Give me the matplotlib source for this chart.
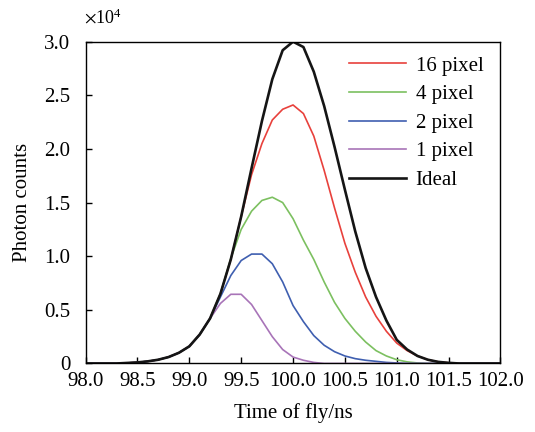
import numpy as np
import matplotlib
matplotlib.use("Agg")
import matplotlib.pyplot as plt

plt.rcParams['font.family'] = ['Liberation Serif', 'DejaVu Serif']
plt.rcParams['mathtext.fontset'] = 'stix'

# time grid (ns), 0.1 ns step
t = np.linspace(98.0, 102.0, 41)

# photon counts in units of 1e4
ideal = [0, 0, 0, 0, 0.005,
         0.01, 0.02, 0.035, 0.06, 0.10, 0.16, 0.27, 0.42, 0.65, 0.97,
         1.37, 1.82, 2.26, 2.65, 2.92, 3.0, 2.95, 2.72, 2.40, 2.02,
         1.62, 1.23, 0.89, 0.62, 0.40, 0.22, 0.13, 0.07, 0.035, 0.015,
         0.006, 0, 0, 0, 0, 0]
pix16 = [0, 0, 0, 0, 0.005,
         0.01, 0.02, 0.035, 0.06, 0.10, 0.16, 0.27, 0.42, 0.65, 0.97,
         1.37, 1.76, 2.05, 2.27, 2.37, 2.41, 2.33, 2.12, 1.80, 1.45,
         1.12, 0.85, 0.62, 0.44, 0.30, 0.19, 0.12, 0.07, 0.035, 0.015,
         0.006, 0, 0, 0, 0, 0]
pix4 = [0, 0, 0, 0, 0.005,
        0.01, 0.02, 0.035, 0.06, 0.10, 0.16, 0.27, 0.42, 0.65, 0.98,
        1.25, 1.42, 1.52, 1.55, 1.50, 1.35, 1.15, 0.97, 0.76, 0.57,
        0.42, 0.30, 0.20, 0.12, 0.07, 0.035, 0.015, 0.005, 0, 0,
        0, 0, 0, 0, 0, 0]
pix2 = [0, 0, 0, 0, 0.005,
        0.01, 0.02, 0.035, 0.06, 0.10, 0.16, 0.27, 0.42, 0.62, 0.82,
        0.96, 1.02, 1.02, 0.93, 0.76, 0.54, 0.39, 0.26, 0.17, 0.11,
        0.07, 0.045, 0.03, 0.02, 0.01, 0.005, 0, 0, 0, 0,
        0, 0, 0, 0, 0, 0]
pix1 = [0, 0, 0, 0, 0.005,
        0.01, 0.02, 0.035, 0.06, 0.10, 0.16, 0.27, 0.42, 0.56, 0.645,
        0.645, 0.55, 0.40, 0.25, 0.13, 0.06, 0.03, 0.01, 0, 0,
        0, 0, 0, 0, 0, 0, 0, 0, 0, 0,
        0, 0, 0, 0, 0, 0]

x_ticks = [98.0, 98.5, 99.0, 99.5, 100.0, 100.5, 101.0, 101.5, 102.0]
y_ticks = [0, 0.5, 1.0, 1.5, 2.0, 2.5, 3.0]
y_labels = ["0", "0.5", "1.0", "1.5", "2.0", "2.5", "3.0"]

fig = plt.figure(figsize=(5.35, 4.32), dpi=100)
ax = fig.add_axes([0.160, 0.1586, 0.7755, 0.7449])

ax.plot(t, pix16, color="#e8413c", lw=1.2, label="16 pixel")
ax.plot(t, pix4, color="#7cc060", lw=1.2, label="4 pixel")
ax.plot(t, pix2, color="#3f5fb0", lw=1.2, label="2 pixel")
ax.plot(t, pix1, color="#a874b8", lw=1.2, label="1 pixel")
ax.plot(t, ideal, color="#151515", lw=1.9, label="Ideal")

ax.set_xlim(98.0, 102.0)
ax.set_ylim(0, 3.0)
ax.set_xticks(x_ticks)
ax.set_xticklabels(["%.1f" % v for v in x_ticks])
ax.set_yticks(y_ticks)
ax.set_yticklabels(y_labels)
ax.tick_params(axis='both', direction='in', length=4, width=1,
               labelsize=15)
ax.tick_params(axis='x', pad=6)
ax.tick_params(axis='y', pad=11)
for s in ax.spines.values():
    s.set_linewidth(1.0)

ax.set_xlabel("Time of fly/ns", fontsize=15, labelpad=9)
ax.set_ylabel("Photon counts", fontsize=15, labelpad=9)
ax.text(-0.005, 1.045, r"$\times\mathregular{10^4}$", transform=ax.transAxes,
        fontsize=13, ha='left', va='bottom')

ax.legend(loc='upper left', bbox_to_anchor=(0.635, 0.955), frameon=False,
          fontsize=15, handlelength=2.75, handletextpad=0.45,
          labelspacing=0.43, borderpad=0, borderaxespad=0)

fig.savefig("out.png", dpi=100)
